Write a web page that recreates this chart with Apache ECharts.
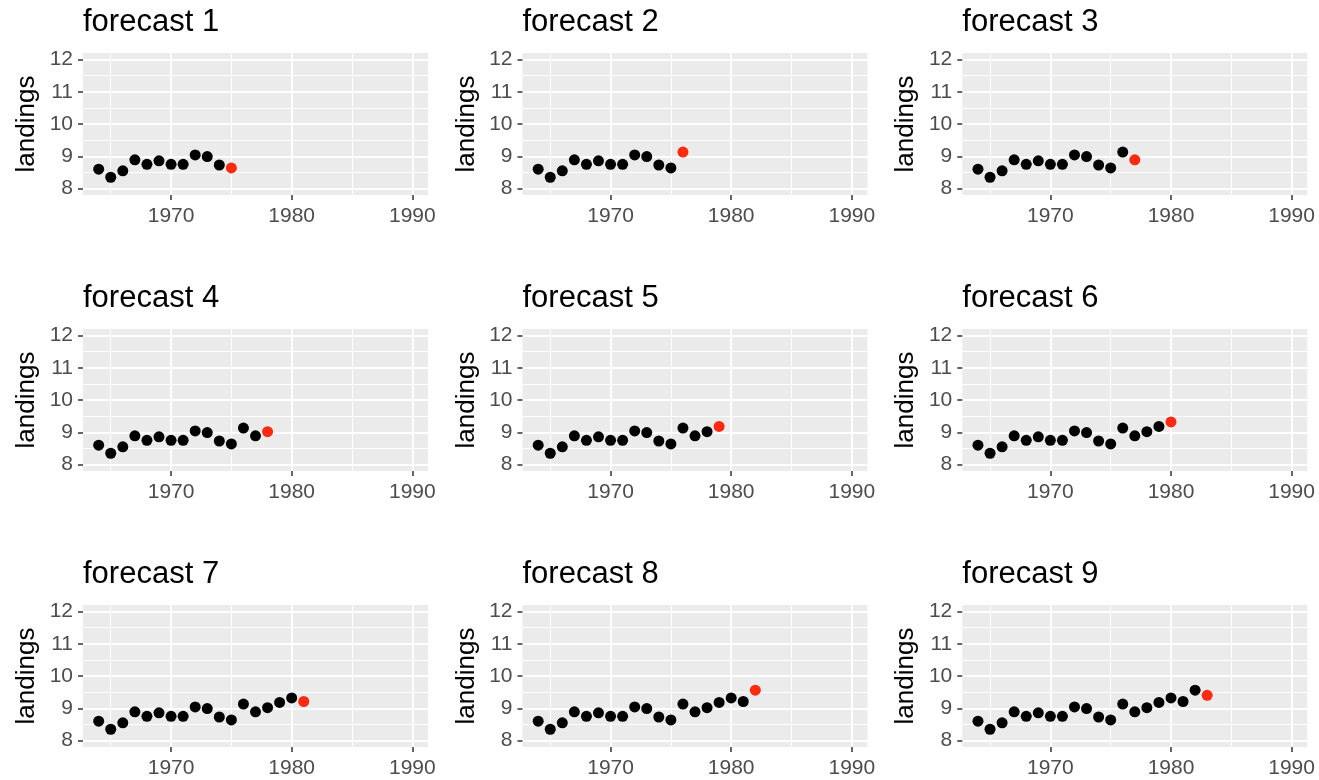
<!DOCTYPE html>
<html><head><meta charset="utf-8">
<script src="https://cdn.jsdelivr.net/npm/echarts@6/dist/echarts.min.js"></script>
<style>html,body{margin:0;padding:0;background:#fff}#c{width:1319px;height:780px}</style>
</head><body><div id="c"></div>
<script>
// ---- data ----
const years = [1964,1965,1966,1967,1968,1969,1970,1971,1972,1973,1974,1975,1976,1977,1978,1979,1980,1981,1982,1983];
const landings = [8.60,8.35,8.55,8.89,8.75,8.86,8.75,8.75,9.04,8.99,8.73,8.64,9.13,8.89,9.02,9.18,9.32,9.21,9.56,9.40];
const panelTitles = ['forecast 1','forecast 2','forecast 3','forecast 4','forecast 5','forecast 6','forecast 7','forecast 8','forecast 9'];
const firstHistoryLength = 11; // panel k: history = first 11+k points, forecast = next point
const xTicks = [1970, 1980, 1990];
const xMinorTicks = [1965, 1975, 1985];
const yTicks = [8, 9, 10, 11, 12];
const yMinorTicks = [8.5, 9.5, 10.5, 11.5];
const yName = 'landings';

// ---- layout ----
const FONT = 'Liberation Sans, Arial, Helvetica, sans-serif';
const lefts = [83, 522.5, 962.3];
const tops = [53, 329, 605];
const W = 345, H = 142;
const xMin = 1962.7, xMax = 1991.3, yMin = 7.8, yMax = 12.2;

const grid = [], xAxis = [], yAxis = [], series = [], title = [];
for (let i = 0; i < 9; i++) {
  const r = Math.floor(i / 3), c = i % 3;
  grid.push({left: lefts[c], top: tops[r], width: W, height: H, show: true,
    backgroundColor: '#EBEBEB', borderWidth: 0, containLabel: false});
  title.push({text: panelTitles[i], left: lefts[c], top: tops[r] - 46, padding: 0,
    textStyle: {fontFamily: FONT, fontSize: 31, fontWeight: 'normal', color: '#000'}});
  // major x
  xAxis.push({type: 'value', gridIndex: i, min: xMin, max: xMax,
    axisLine: {show: false},
    axisTick: {show: true, length: 5, customValues: xTicks, lineStyle: {color: '#333', width: 1.5}},
    axisLabel: {show: true, customValues: xTicks, margin: 11, color: '#4D4D4D', fontSize: 21, fontFamily: FONT,
      formatter: v => String(Math.round(v))},
    splitLine: {show: true, lineStyle: {color: '#fff', width: 2}}});
  // minor x
  xAxis.push({type: 'value', gridIndex: i, min: xMin, max: xMax,
    axisLine: {show: false},
    axisTick: {show: false, customValues: xMinorTicks},
    axisLabel: {show: false, customValues: xMinorTicks},
    splitLine: {show: true, lineStyle: {color: '#fff', width: 1}}});
  yAxis.push({type: 'value', gridIndex: i, min: yMin, max: yMax,
    name: yName, nameLocation: 'middle', nameRotate: 90, nameGap: 43,
    nameTextStyle: {fontFamily: FONT, fontSize: 26, color: '#000'},
    axisLine: {show: false},
    axisTick: {show: true, length: 5, customValues: yTicks, lineStyle: {color: '#333', width: 1.5}},
    axisLabel: {show: true, customValues: yTicks, margin: 10, color: '#4D4D4D', fontSize: 21, fontFamily: FONT},
    splitLine: {show: true, lineStyle: {color: '#fff', width: 2}}});
  yAxis.push({type: 'value', gridIndex: i, min: yMin, max: yMax,
    axisLine: {show: false},
    axisTick: {show: false, customValues: yMinorTicks},
    axisLabel: {show: false, customValues: yMinorTicks},
    splitLine: {show: true, lineStyle: {color: '#fff', width: 1}}});

  const n = firstHistoryLength + i;
  const hist = years.slice(0, n).map((y, k) => [y, landings[k]]);
  series.push({type: 'scatter', xAxisIndex: 2 * i, yAxisIndex: 2 * i, data: hist,
    symbolSize: 11, itemStyle: {color: '#000', opacity: 1}, silent: true, z: 3});
  series.push({type: 'scatter', xAxisIndex: 2 * i, yAxisIndex: 2 * i, data: [[years[n], landings[n]]],
    symbolSize: 11, itemStyle: {color: '#FF2A10', opacity: 1}, silent: true, z: 3});
}

const chart = echarts.init(document.getElementById('c'), null, {renderer: 'canvas'});
chart.setOption({animation: false, backgroundColor: '#fff', title, grid, xAxis, yAxis, series});
</script>
</body></html>
